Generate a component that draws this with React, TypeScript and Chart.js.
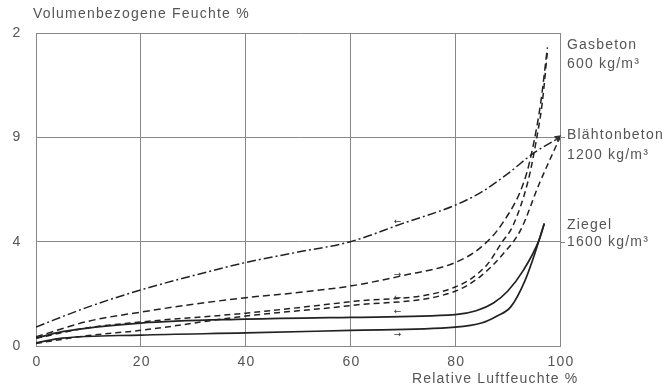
import React, { useEffect, useRef } from "react";
import { Chart, registerables } from "chart.js";

Chart.register(...registerables);

// Gasbeton 600 kg/m³ – adsorption (dashed, upper)
const gasAdsX = [0, 10, 20, 30, 40, 50, 60, 70, 80, 85, 89, 93.3, 95, 96.3, 97.6];
const gasAdsY = [0.35, 0.95, 1.3, 1.6, 1.85, 2.05, 2.3, 2.7, 3.2, 3.8, 4.7, 6.4, 7.8, 9.3, 11.45];
// Gasbeton 600 kg/m³ – second branch (dashed)
const gasDesX = [0, 10, 20, 40, 60, 80, 86, 89, 91, 94, 95.4, 96.6, 97.6];
const gasDesY = [0.3, 0.7, 0.92, 1.26, 1.7, 2.26, 3.1, 4.0, 4.6, 6.4, 7.8, 9.3, 11.3];
// Blähtonbeton 1200 kg/m³ – dash-dot branch
const blaeDesX = [0, 10, 20, 30, 40, 50, 60, 70, 80, 85, 90, 95, 100];
const blaeDesY = [0.73, 1.5, 2.15, 2.7, 3.2, 3.6, 4.0, 4.7, 5.4, 5.9, 6.6, 7.4, 8.0];
// Blähtonbeton 1200 kg/m³ – dashed branch
const blaeAdsX = [0, 10, 20, 40, 60, 80, 85, 89, 92.5, 96, 100];
const blaeAdsY = [0.1, 0.4, 0.6, 1.15, 1.55, 2.1, 2.7, 3.5, 4.45, 6.2, 8.0];
// Ziegel 1600 kg/m³ – desorption (solid upper)
const zieDesX = [0, 5, 20, 40, 60, 80, 84, 87.3, 90, 93, 96, 97];
const zieDesY = [0.3, 0.55, 0.88, 1.03, 1.1, 1.2, 1.35, 1.65, 2.1, 2.9, 4.06, 4.7];
// Ziegel 1600 kg/m³ – adsorption (solid lower)
const zieAdsX = [0, 5, 20, 40, 60, 80, 85, 88, 90.6, 93.3, 95.2, 97];
const zieAdsY = [0.12, 0.3, 0.42, 0.5, 0.6, 0.72, 0.88, 1.15, 1.5, 2.5, 3.55, 4.7];

const xTickValues = [0, 20, 40, 60, 80, 100];
const xTickLabels = ["0", "20", "40", "60", "80", "100"];
const yTickValues = [0, 4, 8, 12];
const yTickLabels = ["0", "4", "9", "2"];

const yTitle = "Volumenbezogene Feuchte %";
const xTitle = "Relative Luftfeuchte %";
const materialNames = ["Gasbeton", "Blähtonbeton", "Ziegel"];
const materialDensities = ["600 kg/m³", "1200 kg/m³", "1600 kg/m³"];

const pts = (xs: number[], ys: number[]) => xs.map((x, i) => ({ x, y: ys[i] }));

export default function App() {
  const ref = useRef<HTMLCanvasElement | null>(null);

  useEffect(() => {
    document.body.style.margin = "0";
    const canvas = ref.current;
    if (!canvas) return;
    const lineColor = "#222";
    const textColor = "#555";
    const font = '14px "Liberation Sans", Arial, sans-serif';

    const base = {
      showLine: true,
      pointRadius: 0,
      borderColor: lineColor,
      borderWidth: 1.5,
      fill: false,
      cubicInterpolationMode: "monotone" as const,
    };

    const labelsPlugin = {
      id: "labels",
      afterDraw(chart: any) {
        const { ctx, scales } = chart;
        const xs = scales.x;
        const ys = scales.y;
        ctx.save();
        ctx.fillStyle = textColor;
        ctx.font = font;
        ctx.letterSpacing = "1.2px";
        ctx.textBaseline = "middle";
        ctx.textAlign = "center";
        yTickValues.forEach((v, i) => {
          ctx.fillText(yTickLabels[i], 17, ys.getPixelForValue(v));
        });
        xTickValues.forEach((v, i) => {
          ctx.fillText(xTickLabels[i], xs.getPixelForValue(v) + 1, 362);
        });
        ctx.textAlign = "left";
        ctx.fillText(yTitle, 33, 14);
        ctx.fillText(xTitle, 412, 379);
        const nameY = [45, 135, 225];
        const densY = [64, 155, 242];
        materialNames.forEach((n, i) => {
          ctx.fillText(n, 567, nameY[i]);
          ctx.fillText(materialDensities[i], 567, densY[i]);
        });
        ctx.letterSpacing = "0px";
        // small direction arrows on the curves
        ctx.font = '9px "DejaVu Sans", sans-serif';
        ctx.fillStyle = "#333";
        ctx.textAlign = "center";
        const marks: [number, number, string][] = [
          [69, 4.75, "←"],
          [69, 2.75, "→"],
          [69, 1.85, "←"],
          [69, 1.3, "←"],
          [69, 0.45, "→"],
        ];
        marks.forEach(([mx, my, s]) => {
          ctx.fillText(s, xs.getPixelForValue(mx), ys.getPixelForValue(my));
        });
        // arrow head at the Blähtonbeton end
        const ax = xs.getPixelForValue(100);
        const ay = ys.getPixelForValue(8);
        ctx.beginPath();
        ctx.moveTo(ax + 1, ay - 2);
        ctx.lineTo(ax - 6, ay - 1);
        ctx.lineTo(ax - 2, ay + 5);
        ctx.closePath();
        ctx.fill();
        // short extensions of grid lines beyond the frame
        ctx.strokeStyle = "#888";
        ctx.lineWidth = 1;
        [4, 8].forEach((v) => {
          const py = Math.round(ys.getPixelForValue(v)) + 0.5;
          ctx.beginPath();
          ctx.moveTo(ax, py);
          ctx.lineTo(ax + 5, py);
          ctx.stroke();
        });
        ctx.restore();
      },
    };

    const chart = new Chart(canvas, {
      type: "scatter",
      data: {
        datasets: [
          { ...base, data: pts(gasAdsX, gasAdsY), borderDash: [7, 4] },
          { ...base, data: pts(gasDesX, gasDesY), borderDash: [6, 4] },
          { ...base, data: pts(blaeDesX, blaeDesY), borderDash: [9, 3, 2, 3] },
          { ...base, data: pts(blaeAdsX, blaeAdsY), borderDash: [6, 4] },
          { ...base, data: pts(zieDesX, zieDesY), borderWidth: 1.7 },
          { ...base, data: pts(zieAdsX, zieAdsY), borderWidth: 1.7 },
        ],
      },
      options: {
        animation: false,
        responsive: false,
        layout: { padding: { left: 36, top: 33, right: 107, bottom: 43 } },
        plugins: { legend: { display: false }, tooltip: { enabled: false } },
        scales: {
          x: {
            type: "linear",
            min: 0,
            max: 100,
            ticks: { display: false, stepSize: 20 },
            grid: { color: "#888", drawTicks: false, lineWidth: 1 },
            border: { display: true, color: "#888" },
          },
          y: {
            type: "linear",
            min: 0,
            max: 12,
            ticks: { display: false, stepSize: 4 },
            grid: { color: "#888", drawTicks: false, lineWidth: 1 },
            border: { display: true, color: "#888" },
          },
        },
      },
      plugins: [labelsPlugin],
    });
    return () => chart.destroy();
  }, []);

  return <canvas ref={ref} width={667} height={389} style={{ display: "block" }} />;
}
